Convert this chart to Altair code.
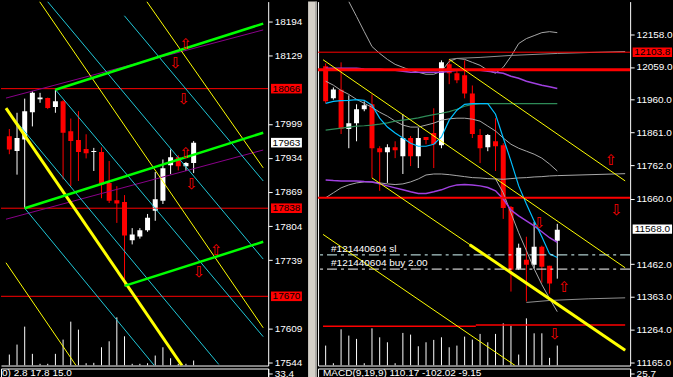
import altair as alt
import pandas as pd

FONT = "Liberation Sans"

# ---------------- left chart: 25 bars ----------------
L_OPEN  = [17975,17947,17969,18021,18046,18048,18031,18042,17985,17968,17951,17945,17945,17886,17853,17850,17777,17784,17796,17833,17852,17920,17935,17918,17924]
L_HIGH  = [17989,18020,18047,18061,18058,18049,18064,18044,18009,18023,17979,17953,17954,17928,17880,17863,17800,17800,17827,17907,17931,17950,17939,17926,17966]
L_LOW   = [17941,17902,17838,17994,18039,18027,18020,17893,17880,17890,17933,17909,17857,17848,17810,17690,17769,17780,17793,17814,17846,17903,17910,17909,17905]
L_CLOSE = [17950,17972,18023,18058,18049,18029,18042,17982,17966,17945,17943,17947,17883,17852,17847,17786,17788,17796,17820,17855,17914,17935,17918,17924,17963]
L_VOL   = [110,210,390,117,17,17,117,260,440,360,23,27,183,243,483,293,17,17,23,100,183,73,17,17,50]
L_TICKS = [18194,18129,17999,17934,17869,17804,17739,17609,17544]
L_XDOM = [-0.4375, 33.0625]
L_YDOM = [17538, 18232]
L_HLINES = [18066, 17838, 17670]
L_LAST = 17963
# trend lines (bar index, price) -> (bar index, price)
L_GREEN  = [(6, 18064, 33.06, 18190), (2, 17838, 33.06, 17982), (15, 17690, 33.06, 17774)]
L_PURPLE = [(-0.4375, 18048, 33.06, 18178), (-0.4375, 17817, 33.06, 17949)]
L_YEL_THICK = [(-0.4375, 18029, 22.48, 17538)]
L_YELLOW = [(3.94, 18232, 33.06, 17610), (17.9, 18232, 33.06, 17915), (-0.4375, 17734, 8.69, 17538)]
L_CYAN = [(-0.4375, 18027, 27.28, 17540), (2, 17838, 18.88, 17538), (6, 18064, 33.06, 17593),
          (4.98, 18232, 33.06, 17741), (14.98, 18205, 33.06, 17890)]
L_UP   = [(22.98, 18151), (22.98, 17943), (26.94, 17758)]
L_DOWN = [(21.65, 18115), (22.73, 18046), (23.73, 17884), (24.69, 17717)]

# ---------------- right chart: 31 bars ----------------
R_OPEN  = [12061,11964,11990,11871,11889,11931,11946,11813,11801,11816,11789,11844,11789,11847,11859,11822,12067,12040,12034,11979,11853,11816,11834,11822,11635,11448,11475,11460,11515,11457,11533]
R_HIGH  = [12070,11997,12073,11973,11946,11955,11976,11819,11825,11834,11916,11850,11874,11847,11934,12079,12082,12052,12079,12003,11871,11856,11904,11828,11638,11524,11545,11590,11518,11457,11584]
R_LOW   = [11949,11960,11856,11813,11834,11925,11723,11684,11708,11783,11735,11759,11753,11825,11753,11813,12007,12010,11964,11844,11768,11804,11744,11599,11379,11445,11349,11448,11406,11373,11418]
R_CLOSE = [11955,11991,11871,11889,11931,11943,11813,11801,11816,11807,11844,11789,11844,11838,11825,12073,12040,12019,11979,11856,11813,11853,11819,11632,11445,11512,11460,11515,11454,11403,11566]
R_VOL   = [200,23,363,300,267,23,373,283,233,23,327,310,193,233,257,283,183,200,290,260,317,233,317,423,400,110,473,323,323,77,200]
R_TICKS = [12158,12059,11960,11861,11762,11660,11462,11363,11264,11165]
R_XDOM = [-0.3375, 38.7875]
R_YDOM = [11155, 12257]
R_LAST = 11568
R_LEVEL = 12103.8
# indicator curves, one value per bar
R_UB_START = 3
R_UB = [12257,12212,12166,12121,12100,12082,12067,12058,12049,12043,12037,12037,12046,12076,12085,12082,12073,12064,12049,12040,12058,12091,12130,12145,12154,12163,12166,12163]
R_MB = [12016,12004,11988,11976,11961,11949,11937,11922,11910,11895,11883,11877,11877,11883,11889,11898,11902,11904,11904,11901,11895,11880,11865,11844,11825,11813,11804,11795,11783,11765,11744]
R_LB = [11663,11678,11693,11702,11708,11711,11711,11708,11705,11703,11705,11711,11720,11732,11735,11735,11733,11730,11727,11724,11723,11721,11720,11719,11721,11723,11724,11726,11727,11729,11730]
R_LB_EDGE = 11736
R_DROP_START = 22
R_DROP = [11720,11678,11617,11557,11503,11448,11400,11358,11318]
R_PU = [12055,12055,12055,12055,12055,12053,12052,12052,12050,12049,12046,12043,12043,12043,12043,12043,12046,12049,12050,12050,12049,12046,12043,12040,12031,12025,12016,12010,12004,11999,11994]
R_PL = [11717,11715,11714,11714,11714,11712,11711,11705,11699,11693,11687,11681,11676,11676,11681,11687,11696,11702,11703,11702,11699,11694,11684,11659,11626,11608,11593,11578,11560,11542,11528]
R_GREEN = [11868,11871,11874,11877,11880,11881,11883,11886,11890,11895,11898,11901,11905,11910,11915,11919,11924,11931,11940,11946,11948,11948,11948,11948,11948,11948,11948,11948,11948,11948,11948]
R_CYAN = [11949,11955,11957,11958,11960,11958,11943,11904,11877,11859,11844,11828,11819,11819,11825,11847,11898,11928,11946,11948,11948,11948,11916,11844,11774,11699,11644,11593,11545,11493,11482]
R_RES_I = [16, 17, 20, 24, 30, 38.79]
R_RES   = [12082, 12085, 12088, 12094, 12100, 12106]
R_SUP_I = [26, 29, 34, 38.79]
R_SUP   = [11346, 11352, 11357, 11360]
R_YELLOW = [(-0.3375, 12081, 38.79, 11451), (16, 12082, 38.79, 11714), (6, 11723, 38.79, 11201),
            (-0.3375, 11552, 24.54, 11155)]
R_YEL_THICK = [(18.66, 11521, 38.79, 11201)]
R_RED_STEP = [(-0.3375, 11274, 19.45, 11274), (19.45, 11278, 38.79, 11278)]
R_RED_THICK = 12051
R_RED_MID = 11663
R_SL = 11490
R_BUY = 11447
R_ORDER_TEXT = ["#121440604 sl", "#121440604 buy 2.00"]
R_UP   = [(36.95, 11776), (30.91, 11394)]
R_DOWN = [(37.66, 11626), (27.66, 11586), (29.66, 11251)]

SUB_LEFT_TEXT = "0)  2.8   17.8   15.0"
SUB_RIGHT_TEXT = "MACD(9,19,9)  110.17  -102.02  -9.15"
SUB_LEFT_VAL = 33.4
SUB_RIGHT_VAL = 25.7

LW, RW, H = 268, 313, 365


def axes(ticks, fmt):
    xax = alt.Axis(labels=False, ticks=False, domain=True, domainColor="white", grid=False, title=None, orient="bottom")
    yax = alt.Axis(orient="right", values=ticks, format=fmt, grid=False, title=None, tickSize=4,
                   tickColor="white", domainColor="white", labelColor="white", labelFont=FONT,
                   labelFontSize=10, labelPadding=2, labelOverlap=False)
    return xax, yax


def seg_layer(segs, color, width, xs, ys, xax, yax, dash=None):
    df = pd.DataFrame(segs, columns=["x0", "y0", "x1", "y1"])
    kw = dict(color=color, strokeWidth=width, clip=True)
    if dash:
        kw["strokeDash"] = dash
    return alt.Chart(df).mark_rule(**kw).encode(
        x=alt.X("x0:Q", scale=xs, axis=xax), x2="x1:Q",
        y=alt.Y("y0:Q", scale=ys, axis=yax), y2="y1:Q")


def hline(values, color, width, ys, yax, dash=None):
    kw = dict(color=color, strokeWidth=width, clip=True)
    if dash:
        kw["strokeDash"] = dash
    return alt.Chart(pd.DataFrame({"p": values})).mark_rule(**kw).encode(y=alt.Y("p:Q", scale=ys, axis=yax))


def candles(o, h, l, c, xs, ys, xax, yax):
    df = pd.DataFrame({"i": list(range(len(o))), "o": o, "h": h, "l": l, "c": c})
    col = alt.condition("datum.c >= datum.o", alt.value("white"), alt.value("#ff0000"))
    wick = alt.Chart(df).mark_rule(strokeWidth=1, clip=True).encode(
        x=alt.X("i:Q", scale=xs, axis=xax), y=alt.Y("l:Q", scale=ys, axis=yax), y2="h:Q", color=col)
    body = alt.Chart(df).mark_bar(size=5, clip=True).encode(
        x=alt.X("i:Q", scale=xs, axis=xax), y=alt.Y("o:Q", scale=ys, axis=yax), y2="c:Q", color=col)
    return [wick, body]


def volume(vols, xs, xax, left_border):
    df = pd.DataFrame({"i": list(range(len(vols))), "v": vols, "z": [0] * len(vols)})
    vax = (alt.Axis(orient="left", labels=False, ticks=False, domain=True, domainColor="white",
                    grid=False, title=None) if left_border else None)
    return alt.Chart(df).mark_rule(color="white", strokeWidth=1, clip=True).encode(
        x=alt.X("i:Q", scale=xs, axis=xax),
        y=alt.Y("v:Q", scale=alt.Scale(domain=[0, 3650], nice=False, zero=False), axis=vax),
        y2="z:Q")


def arrows(up, down, xs, ys, xax, yax):
    df = pd.DataFrame([(a, b, "\u21e7") for a, b in up] + [(a, b, "\u21e9") for a, b in down],
                      columns=["i", "p", "t"])
    return alt.Chart(df).mark_text(font="DejaVu Sans", fontSize=15, color="#ff0000", clip=True).encode(
        x=alt.X("i:Q", scale=xs, axis=xax), y=alt.Y("p:Q", scale=ys, axis=yax), text="t:N")


def price_boxes(rows, xpix, width, ratio, ys, yax, fmt):
    df = pd.DataFrame(rows, columns=["p", "fill", "txt"])
    df["lab"] = [format(v, fmt) for v in df["p"]]
    shape = f"M-1,-{ratio}L1,-{ratio}L1,{ratio}L-1,{ratio}Z"
    box = alt.Chart(df).mark_point(shape=shape, size=width * width, filled=True, opacity=1, strokeWidth=0).encode(
        x=alt.value(xpix), y=alt.Y("p:Q", scale=ys, axis=yax), color=alt.Color("fill:N", scale=None))
    txt = alt.Chart(df).mark_text(font=FONT, fontSize=10, align="center", baseline="middle").encode(
        x=alt.value(xpix), y=alt.Y("p:Q", scale=ys, axis=yax), text="lab:N",
        color=alt.Color("txt:N", scale=None))
    return [box, txt]


def curve(start, vals, color, width, xs, ys, xax, yax, extra=None):
    pts = [(start + k, v) for k, v in enumerate(vals)]
    if extra:
        pts += extra
    df = pd.DataFrame(pts, columns=["i", "p"])
    return alt.Chart(df).mark_line(color=color, strokeWidth=width, clip=True).encode(
        x=alt.X("i:Q", scale=xs, axis=xax), y=alt.Y("p:Q", scale=ys, axis=yax), order="i:Q")


# ---------------- left main ----------------
lxs = alt.Scale(domain=L_XDOM, nice=False, zero=False)
lys = alt.Scale(domain=L_YDOM, nice=False, zero=False)
lxax, lyax = axes(L_TICKS, "d")
left_layers = []
left_layers += candles(L_OPEN, L_HIGH, L_LOW, L_CLOSE, lxs, lys, lxax, lyax)
left_layers.append(hline(L_HLINES, "#ff0000", 1, lys, lyax))
left_layers.append(seg_layer(L_PURPLE, "#8b008b", 1, lxs, lys, lxax, lyax))
left_layers.append(seg_layer(L_CYAN, "#20c8d8", 1, lxs, lys, lxax, lyax))
left_layers.append(seg_layer(L_YELLOW, "#ffff00", 1, lxs, lys, lxax, lyax))
left_layers.append(seg_layer(L_YEL_THICK, "#ffff00", 3, lxs, lys, lxax, lyax))
left_layers.append(seg_layer(L_GREEN, "#00ff00", 2.5, lxs, lys, lxax, lyax))
left_layers.append(arrows(L_UP, L_DOWN, lxs, lys, lxax, lyax))
left_layers += price_boxes([(v, "#ff0000", "black") for v in L_HLINES] + [(L_LAST, "white", "black")],
                           LW + 18.3, 31, 0.31, lys, lyax, "d")
left_main = alt.layer(volume(L_VOL, lxs, lxax, False), alt.layer(*left_layers)).resolve_scale(
    y="independent").properties(width=LW, height=H, view=alt.ViewBackground(stroke=None))

# ---------------- right main ----------------
rxs = alt.Scale(domain=R_XDOM, nice=False, zero=False)
rys = alt.Scale(domain=R_YDOM, nice=False, zero=False)
rxax, ryax = axes(R_TICKS, ".1f")
sep = alt.Chart(pd.DataFrame({"a": [0]})).mark_rect(color="#d4d0c8").encode(
    x=alt.value(-10), x2=alt.value(-1), y=alt.value(0), y2=alt.value(377))
sep_dark = alt.Chart(pd.DataFrame({"a": [0]})).mark_rule(color="#808080", strokeWidth=1).encode(
    x=alt.value(-2), y=alt.value(0), y2=alt.value(377))
right_layers = [sep, sep_dark]
right_layers += candles(R_OPEN, R_HIGH, R_LOW, R_CLOSE, rxs, rys, rxax, ryax)
right_layers.append(curve(R_UB_START, R_UB, "#a8a8a8", 1, rxs, rys, rxax, ryax))
right_layers.append(curve(0, R_MB, "#a8a8a8", 1, rxs, rys, rxax, ryax))
right_layers.append(curve(0, R_LB, "#a8a8a8", 1, rxs, rys, rxax, ryax, extra=[(38.79, R_LB_EDGE)]))
right_layers.append(curve(R_DROP_START, R_DROP, "#a8a8a8", 1, rxs, rys, rxax, ryax))
right_layers.append(alt.Chart(pd.DataFrame({"i": R_RES_I, "p": R_RES})).mark_line(
    color="#909090", strokeWidth=1, clip=True).encode(x=alt.X("i:Q", scale=rxs, axis=rxax),
                                                       y=alt.Y("p:Q", scale=rys, axis=ryax)))
right_layers.append(alt.Chart(pd.DataFrame({"i": R_SUP_I, "p": R_SUP})).mark_line(
    color="#909090", strokeWidth=1, clip=True).encode(x=alt.X("i:Q", scale=rxs, axis=rxax),
                                                       y=alt.Y("p:Q", scale=rys, axis=ryax)))
right_layers.append(curve(0, R_GREEN, "#2e8b57", 1.2, rxs, rys, rxax, ryax))
right_layers.append(curve(0, R_PU, "#a040e0", 1.5, rxs, rys, rxax, ryax))
right_layers.append(curve(0, R_PL, "#a040e0", 1.5, rxs, rys, rxax, ryax))
right_layers.append(curve(0, R_CYAN, "#00bfff", 1.2, rxs, rys, rxax, ryax))
right_layers.append(hline([R_LEVEL], "#ff0000", 1, rys, ryax))
right_layers.append(hline([R_RED_THICK], "#ff0000", 3, rys, ryax))
right_layers.append(hline([R_RED_MID], "#ff0000", 2, rys, ryax))
right_layers.append(seg_layer(R_RED_STEP, "#ff0000", 1.5, rxs, rys, rxax, ryax))
right_layers.append(hline([R_SL], "#d8ffff", 1, rys, ryax, dash=[10, 4, 3, 4]))
right_layers.append(hline([R_BUY], "#ffffff", 1, rys, ryax, dash=[10, 4, 3, 4]))
right_layers.append(seg_layer(R_YELLOW, "#ffff00", 1, rxs, rys, rxax, ryax))
right_layers.append(seg_layer(R_YEL_THICK, "#ffff00", 3, rxs, rys, rxax, ryax))
right_layers.append(alt.Chart(pd.DataFrame({"i": [0.7, 0.7], "p": [R_SL, R_BUY], "t": R_ORDER_TEXT})).mark_text(
    font=FONT, fontSize=10, color="white", align="left", baseline="bottom", dy=-1, clip=True).encode(
    x=alt.X("i:Q", scale=rxs, axis=rxax), y=alt.Y("p:Q", scale=rys, axis=ryax), text="t:N"))
right_layers.append(arrows(R_UP, R_DOWN, rxs, rys, rxax, ryax))
right_layers += price_boxes([(R_LEVEL, "#ff0000", "black"), (R_LAST, "white", "black")],
                            RW + 22.3, 39.5, 0.24, rys, ryax, ".1f")
right_main = alt.layer(volume(R_VOL, rxs, rxax, True), alt.layer(*right_layers)).resolve_scale(
    y="independent").properties(width=RW, height=H, view=alt.ViewBackground(stroke=None))


# ---------------- indicator sub windows ----------------
def sub(width, val, text, xoff):
    df = pd.DataFrame({"v": [val], "t": [text]})
    dmax = val * 8 / 7
    return alt.Chart(df).mark_text(font=FONT, fontSize=10, color="white", align="left", baseline="middle").encode(
        x=alt.value(xoff),
        y=alt.Y("v:Q", scale=alt.Scale(domain=[0, dmax], nice=False, zero=False),
                axis=alt.Axis(orient="right", values=[val], format=".1f", grid=False, title=None, tickSize=4,
                              tickColor="white", domainColor="white", labelColor="white", labelFont=FONT,
                              labelFontSize=10, labelPadding=2)),
        text="t:N").properties(width=width, height=40, view=alt.ViewBackground(stroke="white"))


left_sub = sub(LW, SUB_LEFT_VAL, SUB_LEFT_TEXT, 1)
right_sub = sub(RW, SUB_RIGHT_VAL, SUB_RIGHT_TEXT, 5)

chart = alt.concat(left_main, right_main, left_sub, right_sub, columns=2,
                   spacing={"row": 3, "column": 50}, bounds="flush").properties(
    background="black", padding=0).configure_view(stroke=None)

chart.save("out.html", embed_options={"renderer": "svg", "actions": False})
